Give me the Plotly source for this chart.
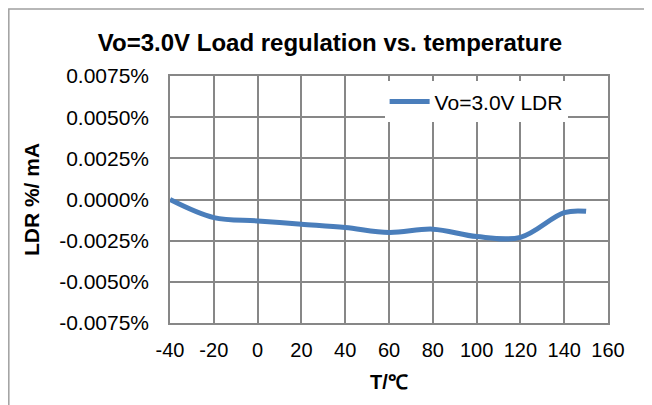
import plotly.graph_objs as go

# данные (LDR в %/mA)
temperature = [-40, -20, 0, 20, 40, 60, 80, 100, 120, 140, 150]
ldr = [0.0000, -0.0011, -0.0013, -0.0015, -0.0017, -0.0020, -0.0018, -0.00225, -0.0023, -0.0008, -0.00072]

y_ticks = [0.0075, 0.0050, 0.0025, 0.0, -0.0025, -0.0050, -0.0075]
y_labels = ['0.0075%', '0.0050%', '0.0025%', '0.0000%', '-0.0025%', '-0.0050%', '-0.0075%']
x_ticks = [-40, -20, 0, 20, 40, 60, 80, 100, 120, 140, 160]
x_labels = ['-40', '-20', '0', '20', '40', '60', '80', '100', '120', '140', '160']

font_name = 'Liberation Sans, Arial, sans-serif'
grid_color = '#878787'
line_color = '#4A7EBB'

# страница рисуется со сдвигом 8px (отступ body), поэтому размер чуть меньше окна
fig_w = 644
fig_h = 397

fig = go.Figure()
fig.add_trace(go.Scatter(
    x=temperature,
    y=ldr,
    mode='lines',
    line=dict(color=line_color, width=5, shape='spline', smoothing=1.0),
    name='Vo=3.0V LDR',
))

fig.update_layout(
    width=fig_w,
    height=fig_h,
    margin=dict(l=162, r=44, t=68, b=82, autoexpand=False),
    paper_bgcolor='white',
    plot_bgcolor='white',
    font=dict(family=font_name, size=20, color='black'),
    title=dict(
        text='<b>Vo=3.0V Load regulation vs. temperature</b>',
        x=0.5, xanchor='center', y=0.912, yanchor='middle',
        font=dict(size=24),
    ),
    showlegend=True,
    legend=dict(
        x=0.49, xanchor='left', y=0.978, yanchor='top',
        bgcolor='white', borderwidth=0,
        font=dict(size=21),
        itemwidth=40,
    ),
    xaxis=dict(
        range=[-40, 160],
        tickvals=x_ticks,
        ticktext=x_labels,
        tickfont=dict(size=20),
        showgrid=True, gridcolor=grid_color, gridwidth=1.5,
        showline=True, linecolor=grid_color, linewidth=1.5, mirror=True,
        zeroline=False,
        ticks='', ticklabelstandoff=8,
        title=dict(text='<b>T/℃</b>', font=dict(size=20), standoff=15),
    ),
    yaxis=dict(
        range=[-0.0075, 0.0075],
        tickvals=y_ticks,
        ticktext=y_labels,
        tickfont=dict(size=21),
        showgrid=True, gridcolor=grid_color, gridwidth=1.5,
        showline=True, linecolor=grid_color, linewidth=1.5, mirror=True,
        zeroline=False,
        ticks='', ticklabelstandoff=15,
        title=dict(text='<b>LDR %/ mA</b>', font=dict(size=21), standoff=14),
    ),
)

# рамка вокруг всей диаграммы
fig.add_shape(
    type='rect', xref='paper', yref='paper',
    x0=-0.368, x1=1.0845, y0=-0.5, y1=1.271,
    line=dict(color='#A0A0A0', width=1.5),
    layer='below',
)

fig.write_html('out.html')
